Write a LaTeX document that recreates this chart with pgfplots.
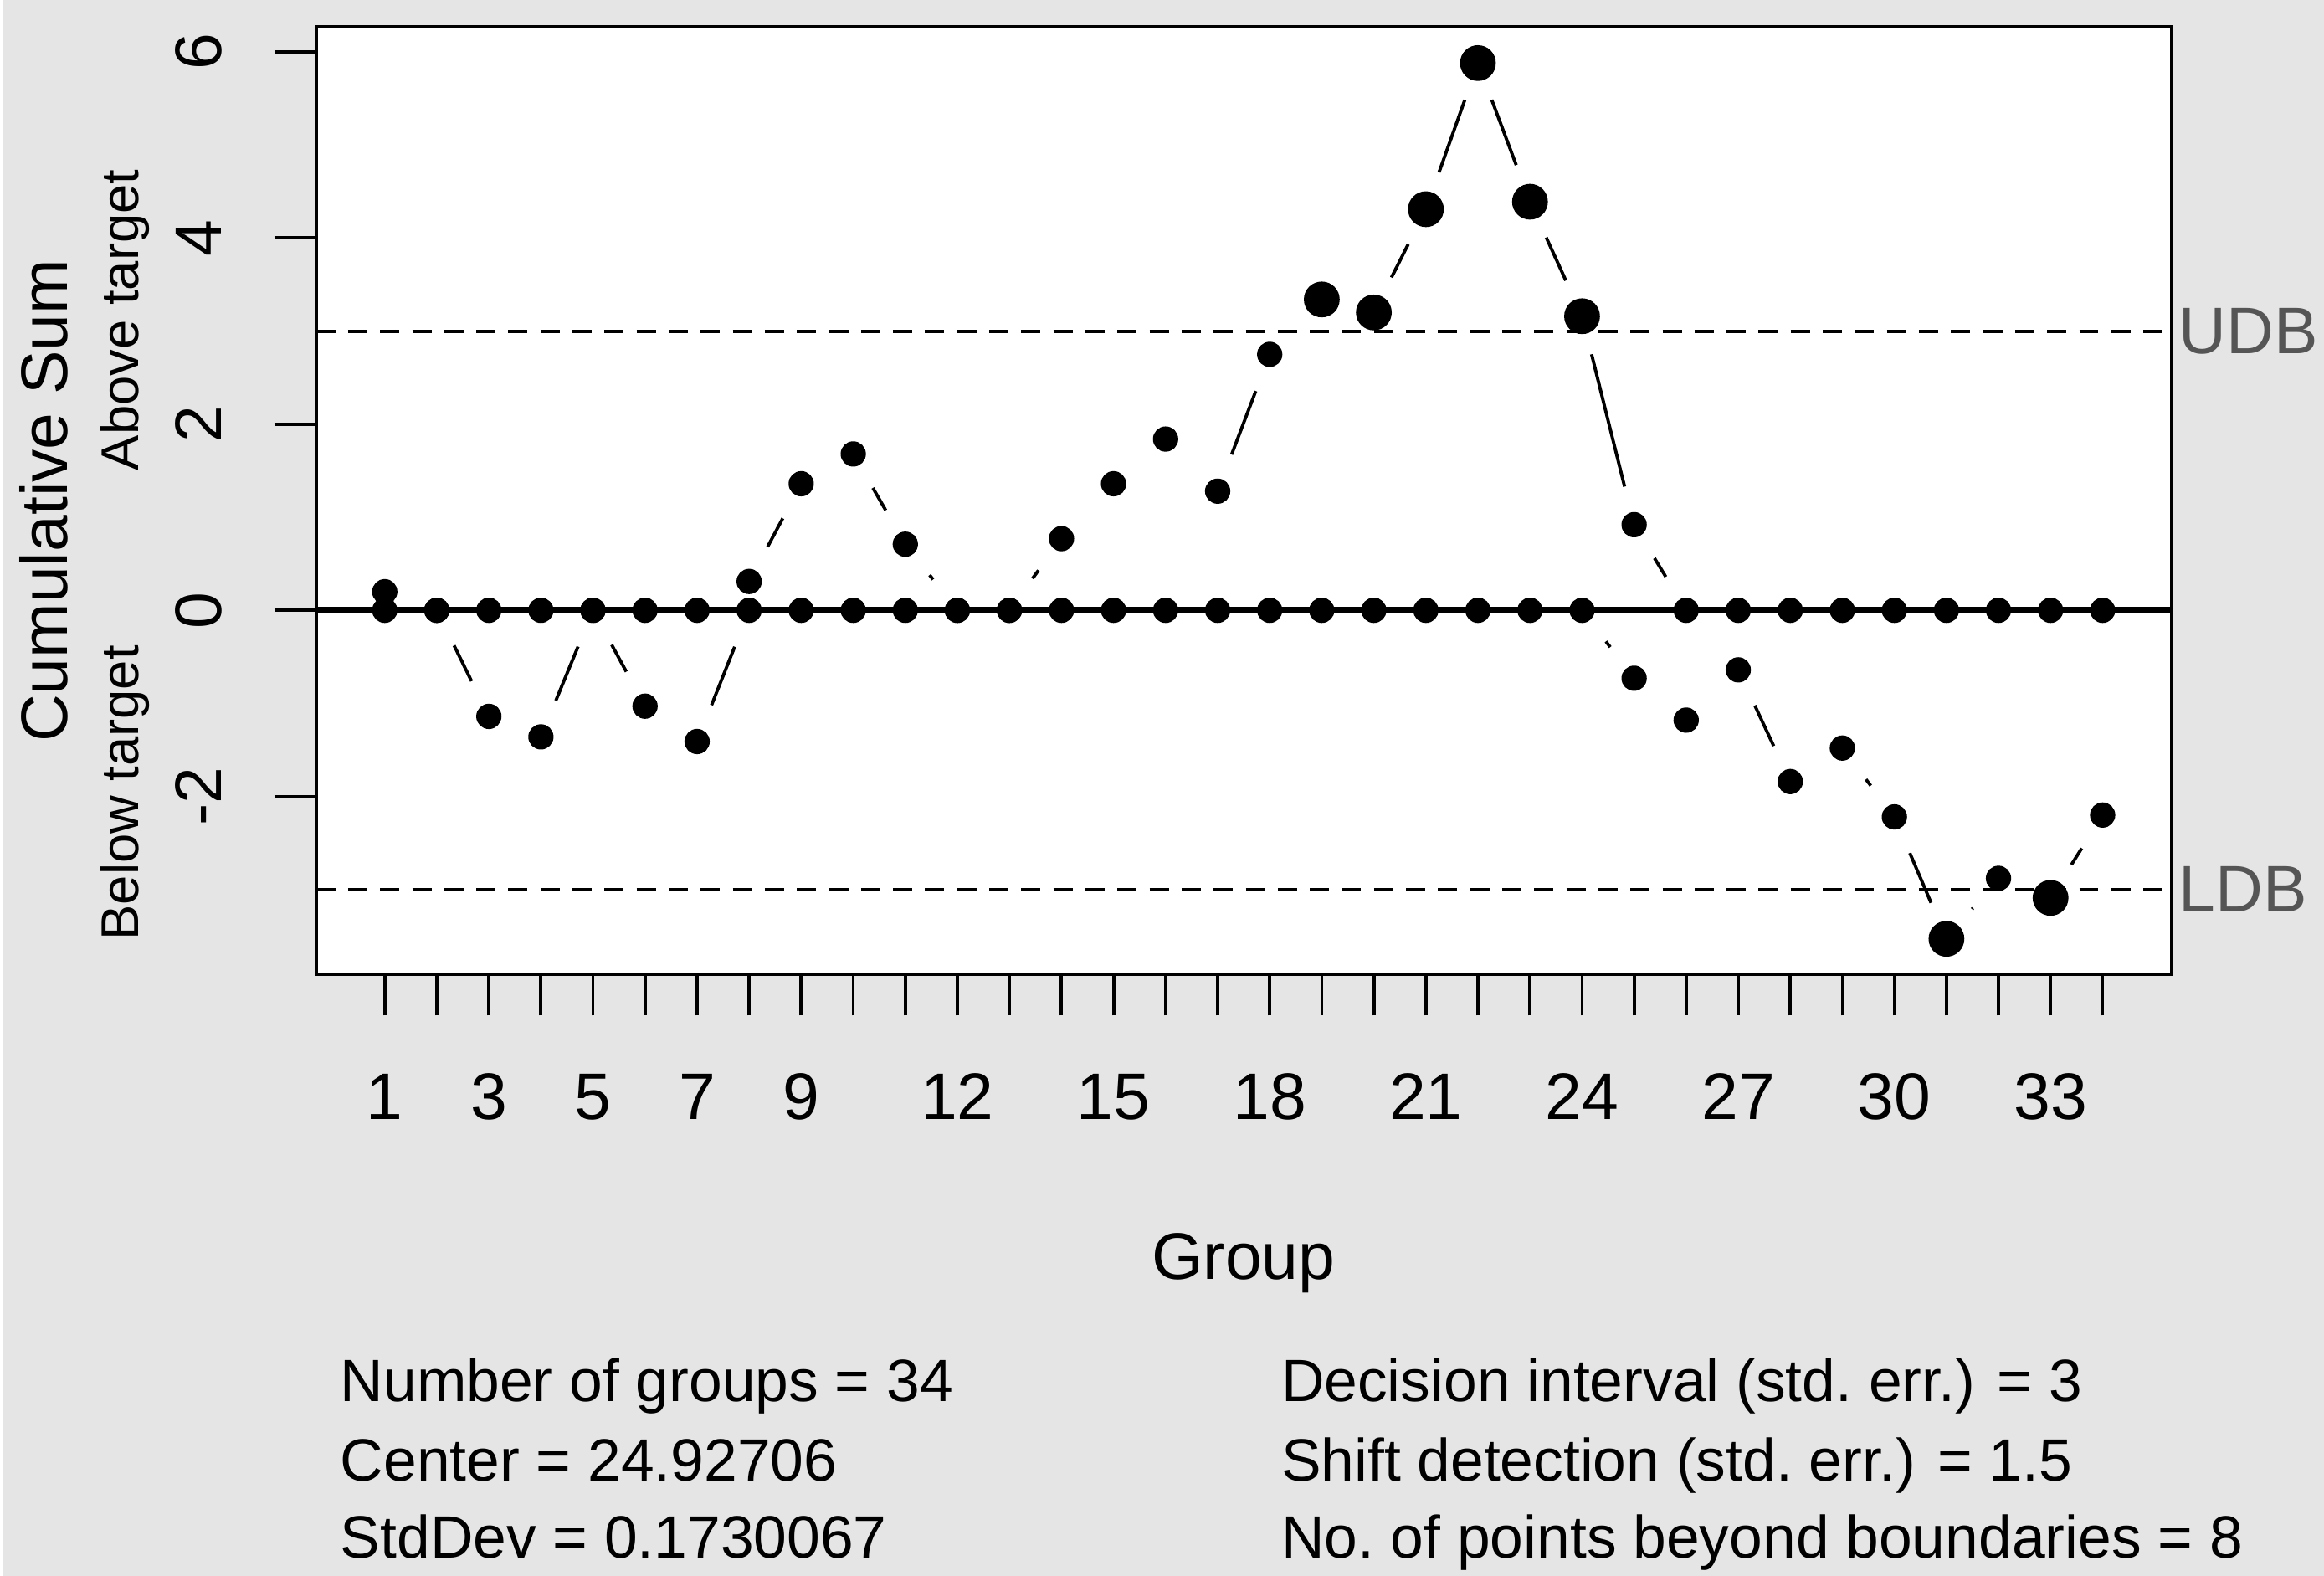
\documentclass[border=0pt]{standalone}
\usepackage{pgfplots}
\usepackage{pgfplotstable}
\pgfplotsset{compat=1.18}
\usepackage{fontspec}
\setmainfont{Liberation Sans}
\definecolor{bg}{HTML}{E5E5E5}
\definecolor{lab}{HTML}{555555}

\pgfplotstableread{
x U L
1 0.20 0
2 0 0
3 0 -1.14
4 0 -1.36
5 0 0
6 0 -1.03
7 0 -1.41
8 0.31 0
9 1.36 0
10 1.68 0
11 0.71 0
12 0 0
13 0 0
14 0.77 0
15 1.36 0
16 1.84 0
17 1.28 0
18 2.75 0
19 3.34 0
20 3.20 0
21 4.31 0
22 5.88 0
23 4.39 0
24 3.16 0
25 0.92 -0.73
26 0 -1.18
27 0 -0.64
28 0 -1.84
29 0 -1.48
30 0 -2.22
31 0 -3.53
32 0 -2.88
33 0 -3.09
34 0 -2.20
}\cusum

% segments of the type="b" lines that are long enough to show
\pgfplotstableread{
x y u v
8 0.31 1 1.05
10 1.68 1 -0.97
11 0.71 1 -0.71
13 0 1 0.77
17 1.28 1 1.47
20 3.20 1 1.11
21 4.31 1 1.57
22 5.88 1 -1.49
23 4.39 1 -1.23
24 3.16 1 -2.24
25 0.92 1 -0.92
2 0 1 -1.14
4 -1.36 1 1.36
5 0 1 -1.03
7 -1.41 1 1.41
24 0 1 -0.73
27 -0.64 1 -1.20
29 -1.48 1 -0.74
30 -2.22 1 -1.31
31 -3.53 1 0.65
33 -3.09 1 0.89
}\segs

\begin{document}
\begin{tikzpicture}[font=\fontsize{11.3pt}{13.5pt}\selectfont]
\fill[bg] (-53.85pt,-103.1pt) rectangle (344.5pt,167.2pt);
\begin{axis}[
  at={(0pt,0pt)}, anchor=south west,
  scale only axis, width=318.3pt, height=162.6pt,
  xmin=-0.32, xmax=35.32, ymin=-3.915, ymax=6.27,
  clip=false,
  axis background/.style={fill=white},
  axis line style={line width=0.55pt, black},
  tick style={line width=0.55pt, black},
  tick align=outside, major tick length=7pt,
  xtick pos=left, ytick pos=left,
  xtick={1,...,34},
  xticklabels={1,,3,,5,,7,,9,,,12,,,15,,,18,,,21,,,24,,,27,,,30,,,33,},
  ytick={-2,0,2,4,6},
  yticklabels={-2,0,2,4,6},
  tick label style={font=\fontsize{11.3pt}{13.5pt}\selectfont},
  xticklabel style={anchor=base, yshift=-17.9pt},
  yticklabel style={xshift=-9.3pt, rotate=90, anchor=base},
]
% decision boundaries and centre line
\addplot[black, line width=0.55pt, dash pattern=on 3.3pt off 2.2pt] coordinates {(-0.32,3) (35.32,3)};
\addplot[black, line width=0.55pt, dash pattern=on 3.3pt off 2.2pt] coordinates {(-0.32,-3) (35.32,-3)};
\addplot[black, line width=1.1pt] coordinates {(-0.32,0) (35.32,0)};
% connecting segments with gaps round the points
\addplot[black, line width=0.55pt, no markers,
  quiver={u=\thisrow{u}, v=\thisrow{v},
    every arrow/.append style={-, shorten <=6.73pt, shorten >=6.73pt}}]
  table[x=x, y=y] {\segs};
% points
\addplot[only marks, mark=*, mark size=1.97pt, mark options={draw=none, fill=black}] table[x=x, y=U] {\cusum};
\addplot[only marks, mark=*, mark size=1.97pt, mark options={draw=none, fill=black}] table[x=x, y=L] {\cusum};
\addplot[only marks, mark=*, mark size=2.87pt, mark options={draw=none, fill=black}] coordinates {
  (19,3.34) (20,3.20) (21,4.31) (22,5.88) (23,4.39) (24,3.16) (31,-3.53) (33,-3.09)};
\node[anchor=west, inner sep=0pt, text=lab, xshift=1.1pt] at (axis cs:35.32,3) {UDB};
\node[anchor=west, inner sep=0pt, text=lab, xshift=1.1pt] at (axis cs:35.32,-3) {LDB};
\end{axis}
\node[anchor=base] at (159.15pt,-52.3pt) {Group};
\node[rotate=90, anchor=base] at (-42.7pt,81.3pt) {Cumulative Sum};
\node[rotate=90, anchor=base, font=\fontsize{9.1pt}{11pt}\selectfont] at (-30.5pt,112.3pt) {Above target};
\node[rotate=90, anchor=base, font=\fontsize{9.1pt}{11pt}\selectfont] at (-30.5pt,31.2pt) {Below target};
\begin{scope}[every node/.style={anchor=base west, inner sep=0pt, font=\fontsize{10.25pt}{12.5pt}\selectfont}]
\node at (4.0pt,-73.2pt) {Number of groups = 34};
\node at (4.0pt,-86.9pt) {Center = 24.92706};
\node at (4.0pt,-100.1pt) {StdDev = 0.1730067};
\node at (165.4pt,-73.2pt) {Decision interval (std.\ err.) = 3};
\node at (165.4pt,-86.9pt) {Shift detection (std.\ err.) = 1.5};
\node at (165.4pt,-100.1pt) {No.\ of points beyond boundaries = 8};
\end{scope}
\end{tikzpicture}
\end{document}
